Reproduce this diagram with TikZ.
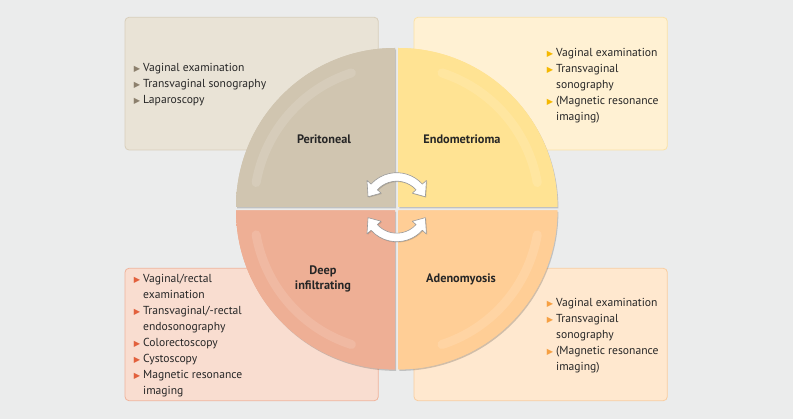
\documentclass[tikz,border=0pt]{standalone}
\usepackage{fontspec}
\setmainfont{PT Sans}
\newfontfamily\bulfont{DejaVu Sans}
\usetikzlibrary{shadows}

\definecolor{bg}{HTML}{EBECEC}
\definecolor{txt}{HTML}{262626}
% box colours
\definecolor{periBox}{HTML}{E9E3D6}\definecolor{periLine}{HTML}{D8CEBB}
\definecolor{endoBox}{HTML}{FFF1D3}\definecolor{endoLine}{HTML}{FBE2A6}
\definecolor{deepBox}{HTML}{F9DDD0}\definecolor{deepLine}{HTML}{F0B39B}
\definecolor{adenoBox}{HTML}{FFE8CF}\definecolor{adenoLine}{HTML}{F9CDA0}
% quadrant colours
\definecolor{peri}{HTML}{D0C5B0}\definecolor{periRim}{HTML}{B9AB92}
\definecolor{endo}{HTML}{FFE393}\definecolor{endoRim}{HTML}{F5C860}
\definecolor{deep}{HTML}{EEAF95}\definecolor{deepRim}{HTML}{DE8E72}
\definecolor{adeno}{HTML}{FFCE96}\definecolor{adenoRim}{HTML}{F3B26E}
% bullets
\definecolor{periBul}{HTML}{8C806D}
\definecolor{endoBul}{HTML}{F5B800}
\definecolor{deepBul}{HTML}{E2603C}
\definecolor{adenoBul}{HTML}{F6A043}

\pgfdeclareradialshading[qin,qout]{quadrim}{\pgfpoint{0bp}{0bp}}%
  {color(0bp)=(qin); color(43bp)=(qin); color(50bp)=(qout)}

\newcommand\bul[1]{\makebox[0pt][r]{\textcolor{#1}{\bulfont\fontsize{8.2}{5}\selectfont\raisebox{0pt}{▶}}\hspace{3pt}}}

% quarter disc: corner, start angle, end angle, fill, rim
\newcommand\quadrant[5]{%
  \fill[#4, drop shadow={fill=black, opacity=.18, shadow xshift=1pt, shadow yshift=-1.5pt}]
    #1 -- ++(#2:159) arc[start angle=#2, end angle=#3, radius=159] -- cycle;
  \begin{scope}
    \clip #1 -- ++(#2:159) arc[start angle=#2, end angle=#3, radius=159] -- cycle;
    \colorlet{qin}{#4}\colorlet{qout}{#5}
    \shade[shading=quadrim] #1 circle (159);
  \end{scope}}

\begin{document}
\begin{tikzpicture}[x=1pt, y=-1pt,
    infobox/.style={rounded corners=4pt, line width=0.8pt},
    list/.style={anchor=north west, inner sep=0pt, align=left, text=txt,
      font=\fontsize{11.6}{16}\selectfont},
    quadlabel/.style={align=center, text=txt, font=\bfseries\fontsize{12.3}{15}\selectfont},
    hilite/.style={white, opacity=.13, line width=9pt, line cap=round},
    swaparrow/.style={fill=white, draw=black!40, line width=0.6pt, line join=round,
      drop shadow={fill=black, opacity=.15, shadow xshift=0.8pt, shadow yshift=-0.8pt}}]
  \useasboundingbox (0,0) rectangle (793,419);
  \fill[bg] (0,0) rectangle (793,419);

  % info boxes
  \draw[infobox, fill=periBox, draw=periLine] (125,17.3) rectangle (378.3,150);
  \draw[infobox, fill=endoBox, draw=endoLine] (414,17.3) rectangle (667.3,150);
  \draw[infobox, fill=deepBox, draw=deepLine] (125,268.3) rectangle (378.3,400.7);
  \draw[infobox, fill=adenoBox, draw=adenoLine] (414,268.3) rectangle (667.3,400.7);

  \node[list] (periList) at (143,63.5) {\bul{periBul}Vaginal examination\\
    \bul{periBul}Transvaginal sonography\\
    \bul{periBul}Laparoscopy};
  \node[list] (endoList) at (556,48.5) {\bul{endoBul}Vaginal examination\\
    \bul{endoBul}Transvaginal\\ sonography\\
    \bul{endoBul}(Magnetic resonance\\ imaging)};
  \node[list] (deepList) at (143,274.3) {\bul{deepBul}Vaginal/rectal\\ examination\\
    \bul{deepBul}Transvaginal/-rectal\\ endosonography\\
    \bul{deepBul}Colorectoscopy\\
    \bul{deepBul}Cystoscopy\\
    \bul{deepBul}Magnetic resonance\\ imaging};
  \node[list] (adenoList) at (556,298.5) {\bul{adenoBul}Vaginal examination\\
    \bul{adenoBul}Transvaginal\\ sonography\\
    \bul{adenoBul}(Magnetic resonance\\ imaging)};

  % the four quarters
  \begin{scope}[shift={(396.7,208.7)}]
    \quadrant{(-1.7,-1.7)}{180}{270}{peri}{periRim}
    \quadrant{(1.7,-1.7)}{0}{-90}{endo}{endoRim}
    \quadrant{(-1.7,1.7)}{180}{90}{deep}{deepRim}
    \quadrant{(1.7,1.7)}{0}{90}{adeno}{adenoRim}

    \draw[hilite] (-1.7,-1.7) ++(190:141) arc[start angle=190, end angle=252, radius=141];
    \draw[hilite] (1.7,-1.7) ++(288:141) arc[start angle=288, end angle=350, radius=141];
    \draw[hilite] (-1.7,1.7) ++(108:141) arc[start angle=108, end angle=170, radius=141];
    \draw[hilite] (1.7,1.7) ++(10:141) arc[start angle=10, end angle=72, radius=141];

    \node[quadlabel] (peritoneal) at (-72.7,-69.7) {Peritoneal};
    \node[quadlabel] (endometrioma) at (65.3,-69.7) {Endometrioma};
    \node[quadlabel] (deepInf) at (-73.7,70) {Deep\\infiltrating};
    \node[quadlabel] (adenomyosis) at (64.3,70.5) {Adenomyosis};
  \end{scope}

  % exchange arrows
  \begin{scope}[shift={(396.7,207.2)}]
    \filldraw[swaparrow] (318:34.5) arc[start angle=318, end angle=222, radius=34.5]
      -- (222:40) -- (200:30.5) -- (222:21) -- (222:26)
      arc[start angle=222, end angle=318, radius=26]
      -- (318:21) -- (340:30.5) -- (318:40) -- cycle;
    \filldraw[swaparrow] (42:34.5) arc[start angle=42, end angle=138, radius=34.5]
      -- (138:40) -- (160:30.5) -- (138:21) -- (138:26)
      arc[start angle=138, end angle=42, radius=26]
      -- (42:21) -- (20:30.5) -- (42:40) -- cycle;
  \end{scope}
\end{tikzpicture}
\end{document}
